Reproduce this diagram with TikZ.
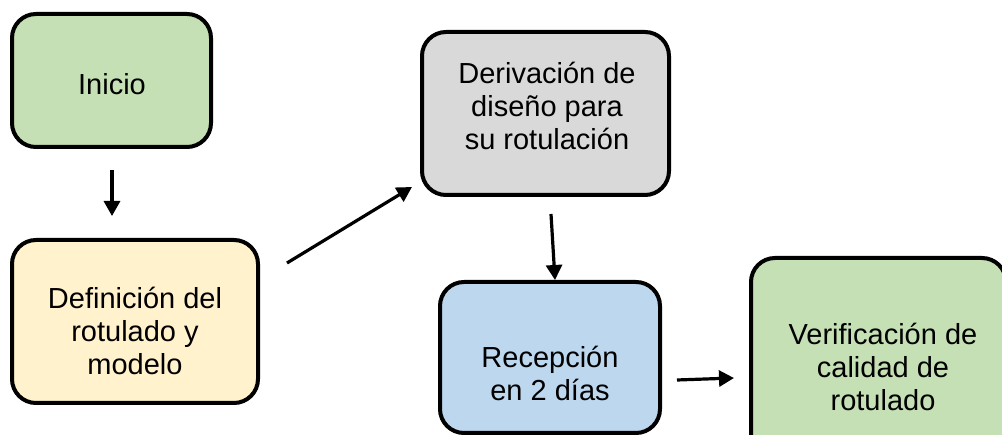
\documentclass[tikz,border=0pt]{standalone}
\usepackage{fontspec}
\setmainfont{Liberation Sans}
\usetikzlibrary{arrows.meta}
\definecolor{boxgreen}{HTML}{C5E0B4}
\definecolor{boxyellow}{HTML}{FFF2CC}
\definecolor{boxgray}{HTML}{D9D9D9}
\definecolor{boxblue}{HTML}{BDD7EE}
\tikzset{
  stepbox/.style={draw=black, line width=4pt, rounded corners=24pt, inner sep=0pt},
  lbl/.style={align=center, font=\fontsize{29}{33}\selectfont, inner sep=0pt},
  flow/.style={line width=3.2pt, -{Triangle[length=15pt,width=16pt]}}
}
\begin{document}
\begin{tikzpicture}[x=1pt,y=-1pt]
\useasboundingbox (0,0) rectangle (1002,435);
\clip (0,0) rectangle (1002,435);
% boxes
\node[stepbox, fill=boxgreen, minimum width=199pt, minimum height=133pt] (inicio) at (111.5,80.5) {};
\node[stepbox, fill=boxyellow, minimum width=246pt, minimum height=163pt] (definicion) at (135,321.5) {};
\node[stepbox, fill=boxgray, minimum width=247pt, minimum height=163pt] (derivacion) at (545.5,113.5) {};
\node[stepbox, fill=boxblue, minimum width=220pt, minimum height=151pt] (recepcion) at (550,357.5) {};
\node[stepbox, fill=boxgreen, minimum width=255pt, minimum height=220pt] (verificacion) at (878.5,368) {};
% texts
\node[lbl] (inicio-t) at (112,84) {Inicio};
\node[lbl] (definicion-t) at (135,331) {Definición del\\rotulado y\\modelo};
\node[lbl] (derivacion-t) at (547,106) {Derivación de\\diseño para\\su rotulación};
\node[lbl] (recepcion-t) at (550,373) {Recepción\\en 2 días};
\node[lbl] (verificacion-t) at (883,367) {Verificación de\\calidad de\\rotulado};
% arrow end points
\coordinate (a1s) at (112,170);
\coordinate (a1e) at (112,216);
\coordinate (a2s) at (287,263);
\coordinate (a2e) at (412,187);
\coordinate (a3s) at (551,214);
\coordinate (a3e) at (555,280);
\coordinate (a4s) at (677,380);
\coordinate (a4e) at (734,378);
% arrows
\draw[flow] (a1s) -- (a1e);
\draw[flow] (a2s) -- (a2e);
\draw[flow] (a3s) -- (a3e);
\draw[flow] (a4s) -- (a4e);
\end{tikzpicture}
\end{document}
